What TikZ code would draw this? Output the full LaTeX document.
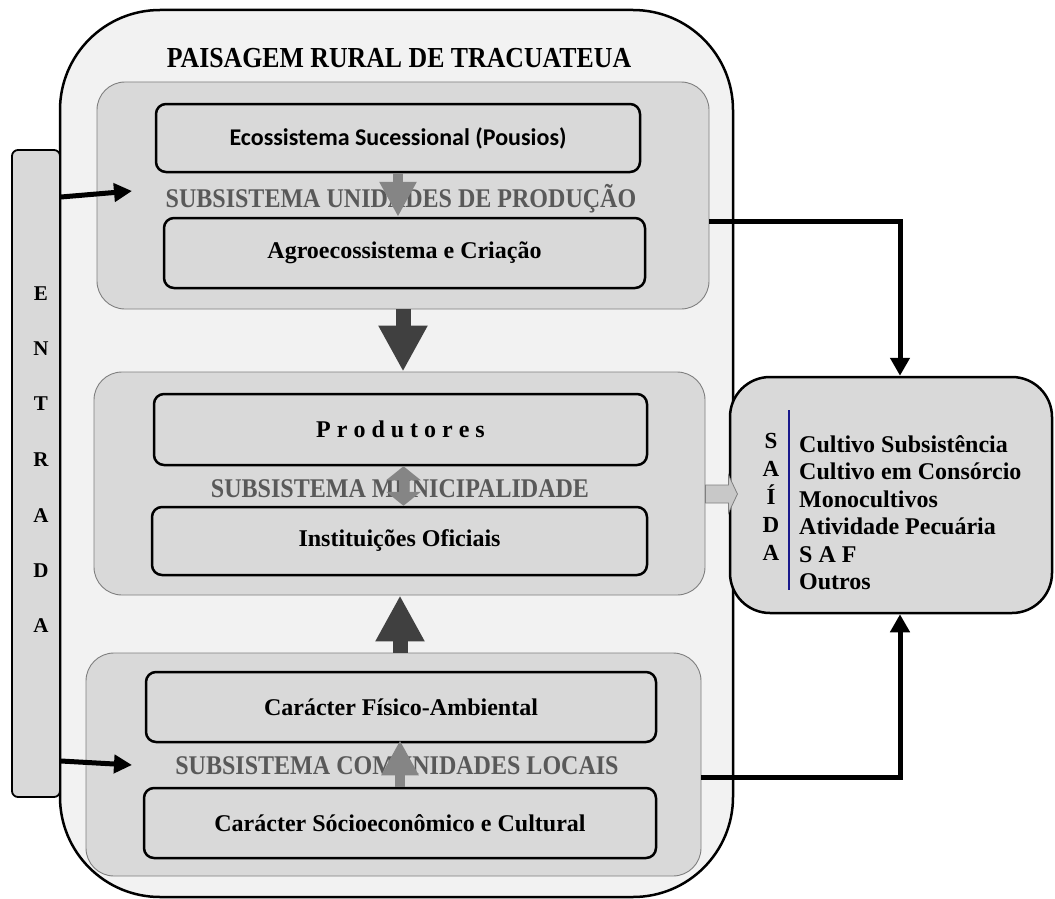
\documentclass[tikz,border=0pt]{standalone}
\usepackage{fontspec}
\setmainfont{Liberation Serif}
\newfontfamily\calib{Carlito}
\usetikzlibrary{arrows.meta,calc}
\definecolor{outerfill}{HTML}{F2F2F2}
\definecolor{boxfill}{HTML}{D9D9D9}
\definecolor{subborder}{HTML}{7F7F7F}
\definecolor{labelgray}{HTML}{595959}
\definecolor{darkarrow}{HTML}{404040}
\definecolor{lightarrow}{HTML}{858585}
\definecolor{blockfill}{HTML}{C8C8C8}
\definecolor{saidablue}{HTML}{1A1A8C}
\newcommand{\condtext}[1]{\scalebox{0.89}[1]{#1}}
\begin{document}
\begin{tikzpicture}[x=1pt,y=-1pt,
  outerbox/.style={draw=black, line width=2.5pt, fill=outerfill, rounded corners=100pt, inner sep=0pt},
  subbox/.style={draw=subborder, line width=0.9pt, fill=boxfill, rounded corners=28pt, inner sep=0pt},
  innerbox/.style={draw=black, line width=2.5pt, fill=boxfill, rounded corners=10pt, inner sep=0pt, font=\fontsize{24}{28}\selectfont\bfseries},
  sidebox/.style={draw=black, line width=1.8pt, fill=boxfill, rounded corners=6pt, inner sep=0pt},
  saidabox/.style={draw=black, line width=2.5pt, fill=boxfill, rounded corners=40pt, inner sep=0pt},
  titletext/.style={inner sep=0pt, anchor=base, font=\fontsize{29}{32}\selectfont\bfseries},
  sublabel/.style={inner sep=0pt, anchor=base, text=labelgray, font=\fontsize{27}{30}\selectfont\bfseries},
  sideletter/.style={inner sep=0pt, anchor=base, font=\fontsize{21}{24}\selectfont\bfseries},
  listtext/.style={inner sep=0pt, anchor=base west, font=\fontsize{24}{27}\selectfont\bfseries},
  letterS/.style={inner sep=0pt, anchor=base, font=\fontsize{23}{27}\selectfont\bfseries},
  bigarrow/.style={draw=darkarrow, line width=15pt, -{Triangle[width=46pt,length=46pt]}},
  smallarrow/.style={draw=lightarrow, line width=10pt, -{Triangle[width=35pt,length=35pt]}},
  smalldouble/.style={draw=lightarrow, line width=10pt, {Triangle[width=34pt,length=14pt]}-{Triangle[width=34pt,length=14pt]}},
  inarrow/.style={draw=black, line width=5pt, -{Triangle[width=18pt,length=18pt]}},
  outline/.style={draw=black, line width=5pt, -{Triangle[width=19pt,length=18pt]}},
  blockarrow/.style={draw=subborder, line width=0.8pt, fill=blockfill}
]
\useasboundingbox (0,0) rectangle (1055,899);

% outer landscape box
\node[outerbox, minimum width=673pt, minimum height=887pt] (outer) at (396.5,453.5) {};
\node[titletext] (title) at (399,68) {\condtext{PAISAGEM RURAL DE TRACUATEUA}};

% ENTRADA
\node[sidebox, minimum width=48pt, minimum height=647pt] (entrada) at (36,473.5) {};
\foreach \ch/\yy [count=\i] in {E/300,N/355,T/410,R/466,A/522,D/577,A/632}{
  \node[sideletter] (ent\i) at (41,\yy) {\ch};
}

% subsystem 1
\node[subbox, minimum width=612pt, minimum height=227pt] (sub1) at (403,195.5) {};
\node[innerbox, minimum width=484pt, minimum height=68pt] (eco) at (398,138) {\calib\bfseries Ecossistema Sucessional (Pousios)};
\node[sublabel] (lab1) at (401,207) {\condtext{SUBSISTEMA UNIDADES DE PRODUÇÃO}};
\node[innerbox, minimum width=481pt, minimum height=70pt] (agro) at (404.5,253) {Agroecossistema e Criação};
\draw[smallarrow] (eco.south) -- (eco.south |- agro.north);

% subsystem 2
\node[subbox, minimum width=611pt, minimum height=223pt] (sub2) at (399.5,483.5) {};
\node[innerbox, minimum width=493pt, minimum height=71pt] (prod) at (400.5,429.5) {P r o d u t o r e s};
\node[sublabel] (lab2) at (400,497) {\condtext{SUBSISTEMA MUNICIPALIDADE}};
\node[innerbox, minimum width=495pt, minimum height=68pt] (inst) at (399.5,541) {Instituições Oficiais};
\draw[smalldouble] ([xshift=3pt]prod.south) -- ([xshift=3pt]prod.south |- inst.north);

% subsystem 3
\node[subbox, minimum width=615pt, minimum height=223pt] (sub3) at (393.5,764.5) {};
\node[innerbox, minimum width=510pt, minimum height=70pt] (fis) at (401,707) {Carácter Físico-Ambiental};
\node[sublabel] (lab3) at (397,774) {\condtext{SUBSISTEMA COMUNIDADES LOCAIS}};
\node[innerbox, minimum width=512pt, minimum height=70pt] (socio) at (400,823) {Carácter Sócioeconômico e Cultural};
\draw[smallarrow] (socio.north) -- ($(socio.north |- fis.south)+(0,-3)$);

% big arrows between subsystems
\draw[bigarrow] (sub1.south) -- (sub1.south |- sub2.north);
\draw[bigarrow] ($(sub3.north)+(6.5,0)$) -- ($(sub3.north |- sub2.south)+(6.5,0)$);

% SAIDA
\node[saidabox, minimum width=322pt, minimum height=236pt] (saida) at (891,495) {};
\foreach \ch/\yy [count=\i] in {S/448,A/476,Í/504,D/532,A/560}{
  \node[letterS] (sl\i) at (771,\yy) {\ch};
}
\draw[saidablue, line width=1.5pt] (789,410) -- (789,590);
\foreach \txt/\yy [count=\i] in {Cultivo Subsistência/452,Cultivo em Consórcio/479,Monocultivos/507,Atividade Pecuária/534,S A F/562,Outros/589}{
  \node[listtext] (item\i) at (799,\yy) {\txt};
}

% block arrow from municipality to saida
\draw[blockarrow] ($(sub2.east)+(0,1.5)$) -- ++(23,0) -- ++(0,-10) -- ++(9,19) -- ++(-9,19) -- ++(0,-10) -- ++(-23,0) -- cycle;

% entrada arrows
\coordinate (e1end) at (132,191);
\coordinate (e2end) at (132,765);
\draw[inarrow] (entrada.east |- 0,197) -- (e1end);
\draw[inarrow] (entrada.east |- 0,761) -- (e2end);

% output lines
\draw[outline] ($(sub1.east)+(0,25.5)$) -| ($(saida.north)+(9,0)$);
\draw[outline] ($(sub3.east)+(0,12.5)$) -| ($(saida.south)+(9,0)$);
\end{tikzpicture}
\end{document}
